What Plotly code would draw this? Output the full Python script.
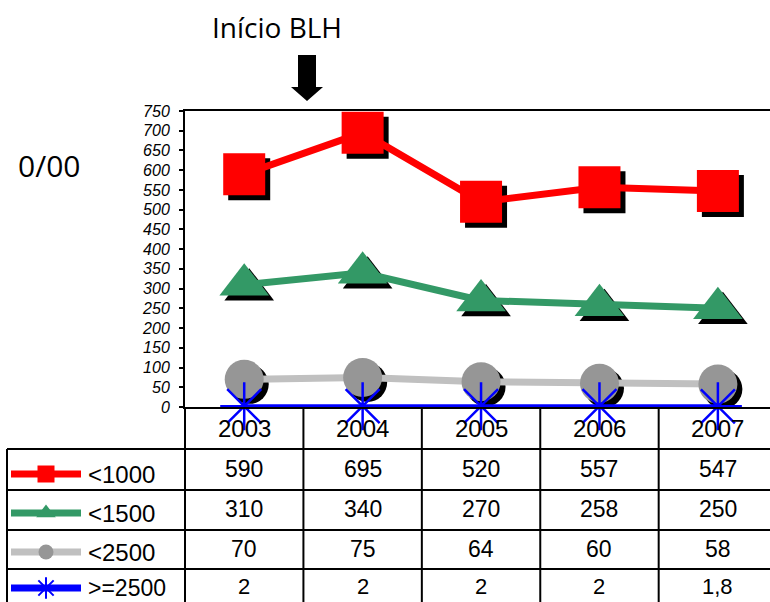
import plotly.graph_objects as go

# ---------------- data ----------------
years = ["2003", "2004", "2005", "2006", "2007"]
series_names = ["<1000", "<1500", "<2500", ">=2500"]
v_lt1000 = [590, 695, 520, 557, 547]
v_lt1500 = [310, 340, 270, 258, 250]
v_lt2500 = [70, 75, 64, 60, 58]
v_ge2500 = [2, 2, 2, 2, 1.8]
y_ticks = list(range(0, 751, 50))

# ---------------- layout helpers ----------------
W, H = 770, 602
def px(x):
    return x / W
def py(y):
    return 1 - y / H

PLOT_L, PLOT_R, PLOT_T, PLOT_B = 185, 770, 111, 407
X_RANGE = [-0.5, 4.44]
Y_RANGE = [0, 750]
SHADOW = 5  # px
dx = SHADOW * (X_RANGE[1] - X_RANGE[0]) / (PLOT_R - PLOT_L)
dy = SHADOW * (Y_RANGE[1] - Y_RANGE[0]) / (PLOT_B - PLOT_T)

FONT = "Liberation Sans, Arial, sans-serif"
FONT2 = "Open Sans, Noto Sans, sans-serif"

styles = [
    dict(color="#ff0000", line="#ff0000", symbol="square", size=42, lw=7, shadow=True, lsize=17),
    dict(color="#339966", line="#339966", symbol="triangle-up", size=43, lw=7, shadow=True, lsize=17),
    dict(color="#969696", line="#c0c0c0", symbol="circle", size=39, lw=7, shadow=True, lsize=15),
    dict(color="#0000ff", line="#0000ff", symbol="asterisk-open", size=40, lw=4, shadow=False, lsize=18),
]
values = [v_lt1000, v_lt1500, v_lt2500, v_ge2500]

fig = go.Figure()

# shadows (base axes x/y, shifted ranges)
for vals, st in zip(values, styles):
    if st["shadow"]:
        fig.add_trace(go.Scatter(
            x=years, y=vals, mode="markers", xaxis="x", yaxis="y",
            marker=dict(symbol=st["symbol"], size=st["size"], color="black"),
            cliponaxis=False, showlegend=False, hoverinfo="skip"))

# main series (overlay axes x2/y2)
for name, vals, st in zip(series_names, values, styles):
    marker = dict(symbol=st["symbol"], size=st["size"], color=st["color"])
    if st["symbol"].endswith("open"):
        marker["line"] = dict(color=st["color"], width=2.5)
    fig.add_trace(go.Scatter(
        x=years, y=vals, mode="lines+markers", name=name, xaxis="x2", yaxis="y2",
        line=dict(color=st["line"], width=st["lw"]), marker=marker,
        cliponaxis=False, showlegend=False))

# legend swatches inside table (pixel-space axes x3/y3)
label_centers = [474, 513, 552, 588]
value_centers = [469, 509, 549, 586]
label_sizes = [24, 24, 24, 23]
for st, yc in zip(styles, label_centers):
    fig.add_trace(go.Scatter(
        x=[11, 81], y=[yc, yc], mode="lines", xaxis="x3", yaxis="y3",
        line=dict(color=st["line"], width=7), showlegend=False, hoverinfo="skip"))
    m = dict(symbol=st["symbol"], size=st["lsize"], color=st["color"])
    if st["symbol"].endswith("open"):
        m["line"] = dict(color=st["color"], width=2)
    fig.add_trace(go.Scatter(
        x=[46], y=[yc], mode="markers", xaxis="x3", yaxis="y3",
        marker=m, showlegend=False, hoverinfo="skip"))

dom_x = [px(PLOT_L), px(PLOT_R)]
dom_y = [py(PLOT_B), py(PLOT_T)]

fig.update_layout(
    template="none",
    width=W, height=H, margin=dict(l=0, r=0, t=0, b=0, pad=0, autoexpand=False),
    paper_bgcolor="white", plot_bgcolor="rgba(0,0,0,0)",
    showlegend=False,
    font=dict(family=FONT, color="black"),
    xaxis=dict(domain=dom_x, type="category", categoryarray=years, automargin=False,
               range=[X_RANGE[0] - dx, X_RANGE[1] - dx], visible=False),
    yaxis=dict(domain=dom_y, range=[Y_RANGE[0] + dy, Y_RANGE[1] + dy], visible=False,
               automargin=False),
    xaxis2=dict(domain=dom_x, type="category", categoryarray=years, overlaying="x",
                range=X_RANGE, showline=True, mirror=True, linecolor="black", linewidth=2,
                showticklabels=False, showgrid=False, zeroline=False, ticks="",
                automargin=False),
    yaxis2=dict(domain=dom_y, overlaying="y", range=Y_RANGE, tickvals=y_ticks,
                showline=True, linecolor="black", linewidth=2, showgrid=False,
                zeroline=False, ticks="outside", ticklen=4, tickwidth=2, tickcolor="black",
                ticklabelstandoff=6, automargin=False,
                tickfont=dict(family=FONT, size=16, style="italic", color="black")),
    xaxis3=dict(domain=[0, 1], range=[0, W], visible=False, automargin=False),
    yaxis3=dict(domain=[0, 1], range=[H, 0], visible=False, automargin=False),
)

# ---------------- table grid ----------------
shapes = []
LW = 2
for yl in [449, 490, 530, 569]:
    shapes.append(dict(type="line", xref="paper", yref="paper",
                       x0=px(7), x1=1, y0=py(yl), y1=py(yl),
                       line=dict(color="black", width=LW)))
shapes.append(dict(type="line", xref="paper", yref="paper",
                   x0=px(7), x1=px(7), y0=py(449), y1=0, line=dict(color="black", width=LW)))
shapes.append(dict(type="line", xref="paper", yref="paper",
                   x0=px(PLOT_L), x1=px(PLOT_L), y0=py(PLOT_B), y1=0,
                   line=dict(color="black", width=LW)))
for i in range(len(years) - 1):
    shapes.append(dict(type="line", xref="x2", yref="paper",
                       x0=i + 0.5, x1=i + 0.5, y0=py(PLOT_B), y1=0,
                       line=dict(color="black", width=LW)))
# arrow
arrow_path = ("M {a},{b} L {c},{b} L {c},{d} L {e},{d} L {f},{g} L {h},{d} L {i},{d} Z").format(
    a=px(298), b=py(55), c=px(316), d=py(87), e=px(323), f=px(307), g=py(101), h=px(291), i=px(298))
shapes.append(dict(type="path", xref="paper", yref="paper", path=arrow_path,
                   fillcolor="black", line=dict(color="black", width=0)))
fig.update_layout(shapes=shapes)

# ---------------- texts ----------------
def fmt(v):
    if float(v).is_integer():
        return str(int(v))
    return str(v).replace(".", ",")

ann = []
for i, yr in enumerate(years):
    ann.append(dict(x=i, xref="x2", y=py(429), yref="paper", text=yr, showarrow=False,
                    font=dict(size=24, family=FONT), xanchor="center", yanchor="middle"))
for name, vals, yl, yv, fs in zip(series_names, values, label_centers, value_centers, label_sizes):
    ann.append(dict(x=px(86), xref="paper", y=py(yl), yref="paper", text=name, showarrow=False,
                    font=dict(size=fs, family=FONT), xanchor="left", yanchor="middle"))
    for i, v in enumerate(vals):
        ann.append(dict(x=i, xref="x2", y=py(yv), yref="paper", text=fmt(v),
                        showarrow=False, font=dict(size=fs - 1, family=FONT),
                        xanchor="center", yanchor="middle"))
ann.append(dict(x=px(49), y=py(166), xref="paper", yref="paper", text="0/00", showarrow=False,
                font=dict(size=30, family=FONT2), xanchor="center", yanchor="middle"))
ann.append(dict(x=px(277), y=py(27), xref="paper", yref="paper", text="Início BLH", showarrow=False,
                font=dict(size=28, family=FONT2), xanchor="center", yanchor="middle"))
fig.update_layout(annotations=ann)

fig.write_html(
    "out.html",
    config={"displayModeBar": False},
    post_script="document.documentElement.style.margin='0';document.documentElement.style.padding='0';"
                "document.body.style.margin='0';document.body.style.padding='0';",
)
